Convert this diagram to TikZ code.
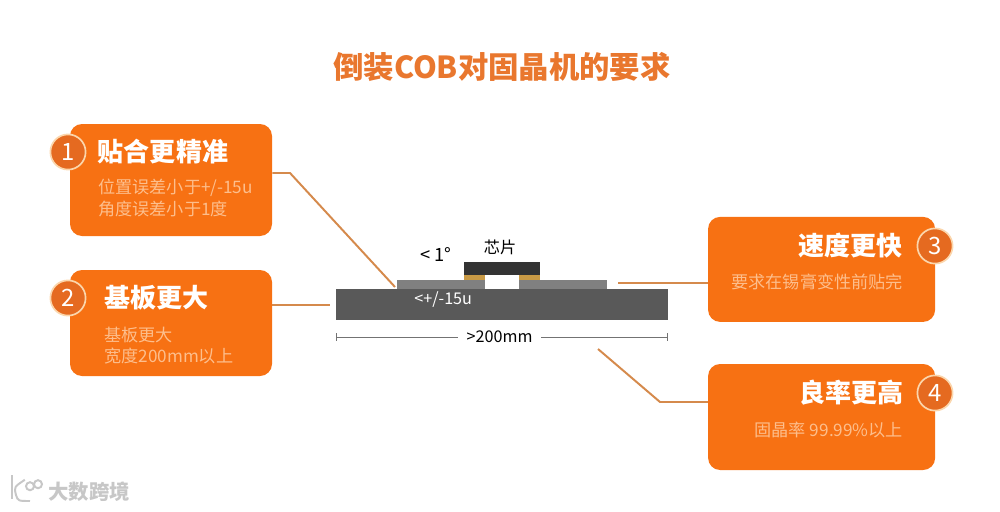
\documentclass[tikz,border=0pt]{standalone}
\usepackage{fontspec}
\setmainfont{Noto Sans CJK SC}
\usepackage{tikz}

\definecolor{boxorange}{HTML}{F77113}
\definecolor{badgeorange}{HTML}{E56A20}
\definecolor{ringcream}{HTML}{FBD6AC}
\definecolor{titleorange}{HTML}{E9772E}
\definecolor{linetan}{HTML}{D58A4C}
\definecolor{detailpeach}{HTML}{FDBE8C}
\definecolor{soldertan}{HTML}{C99A45}

\begin{document}
\begin{tikzpicture}
	\tikzstyle{box}=[fill=boxorange,rounded corners=0.3cm,inner sep=0pt,minimum width=5.05cm]
	\tikzstyle{rbox}=[box,minimum width=5.675cm]
	\tikzstyle{badge}=[draw=ringcream,fill=badgeorange,line width=1.2pt,shape=circle,minimum size=0.88cm,inner sep=0pt,text=white,font=\fontsize{17}{17}\selectfont]
	\tikzstyle{heading}=[text=white,font=\fontsize{18.5}{20}\selectfont\bfseries,inner sep=0pt]
	\tikzstyle{detail}=[text=detailpeach,font=\fontsize{12.2}{15}\selectfont,inner sep=0pt]
	\tikzstyle{part}=[inner sep=0pt,minimum size=0pt]
	\tikzstyle{leader}=[draw=linetan,line width=1.4pt]
	\tikzstyle{logo}=[draw=black!22,line width=1.4pt]

	\useasboundingbox (0,0) rectangle (25,12.775);

	\node[text=titleorange,font=\fontsize{21.6}{24}\selectfont\bfseries](title) at (12.55,11.1){倒装COB对固晶机的要求};

	\node[box,minimum height=2.8cm](box1) at (4.275,8.275){};
	\node[box,minimum height=2.65cm](box2) at (4.275,4.7){};
	\node[rbox,minimum height=2.625cm](box3) at (20.54,6.04){};
	\node[rbox,minimum height=2.65cm](box4) at (20.54,2.35){};

	\node[badge](n1) at (1.7,8.975){1};
	\node[badge](n2) at (1.7,5.325){2};
	\node[badge](n3) at (23.375,6.625){3};
	\node[badge](n4) at (23.375,2.95){4};

	\node[heading](h1) at (4.075,8.975){贴合更精准};
	\node[heading,anchor=west](h2) at (2.6,5.325){基板更大};
	\node[heading](h3) at (21.27,6.625){速度更快};
	\node[heading](h4) at (21.28,2.95){良率更高};

	\node[detail,anchor=west,align=left](d1) at (2.45,7.825){位置误差小于+/-15u\\角度误差小于1度};
	\node[detail,anchor=west,align=left](d2) at (2.6,4.125){基板更大\\宽度200mm以上};
	\node[detail,anchor=east](d3) at (22.58,5.725){要求在锡膏变性前贴完};
	\node[detail,anchor=east](d4) at (22.58,2.025){固晶率 99.99\%以上};

	% cross section
	\node[part,fill=black!65,minimum width=8.3cm,minimum height=0.775cm](base) at (12.55,5.1625){};
	\node[part,fill=black!50,minimum width=2.2cm,minimum height=0.225cm](padl) at (11.025,5.6625){};
	\node[part,fill=black!50,minimum width=2.2cm,minimum height=0.225cm](padr) at (14.075,5.6625){};
	\node[part,fill=black!80,minimum width=1.9cm,minimum height=0.325cm](chip) at (12.55,6.0625){};
	\node[part,fill=soldertan,minimum width=0.525cm,minimum height=0.125cm](soll) at (11.8625,5.8375){};
	\node[part,fill=soldertan,minimum width=0.525cm,minimum height=0.125cm](solr) at (13.2375,5.8375){};

	\node[font=\fontsize{11.5}{12}\selectfont](chiplabel) at (12.5,6.6){芯片};
	\node[font=\fontsize{13}{13}\selectfont](angle) at (10.9,6.4){< 1°};
	\node[text=white,font=\fontsize{11.5}{12}\selectfont,inner sep=0pt](offset) at (11.08,5.275){<+/-15u};

	\coordinate (dl) at (8.4,4.35);
	\coordinate (dr) at (16.7,4.35);
	\node[font=\fontsize{11.5}{12}\selectfont,inner xsep=0.2cm,inner ysep=0pt](width) at (12.49,4.35){>200mm};
	\draw[|-,black!55] (dl) -- (width);
	\draw[|-,black!55] (dr) -- (width);

	% leaders
	\coordinate (b1) at (7.25,8.45);
	\coordinate (e1) at (9.875,5.6);
	\coordinate (e2) at (8.25,5.15);
	\coordinate (e3) at (15.45,5.7);
	\coordinate (b4) at (16.5,2.725);
	\coordinate (e4) at (14.95,4.05);

	\draw[leader] ([yshift=0.175cm]box1.east) -- (b1) -- (e1);
	\draw[leader] ([yshift=0.45cm]box2.east) -- (e2);
	\draw[leader] ([yshift=-0.34cm]box3.west) -- (e3);
	\draw[leader] ([yshift=0.375cm]box4.west) -- (b4) -- (e4);

	% mark in the corner
	\node[text=black!22,font=\fontsize{14.5}{15}\selectfont\bfseries,inner sep=0pt](mark) at (2.23,0.475){大数跨境};
	\coordinate (ka) at (0.3,0.9);
	\coordinate (kb) at (0.3,0.3);
	\node[logo,shape=circle,minimum size=0.2cm,inner sep=0pt](eyea) at (0.75,0.62){};
	\node[logo,shape=circle,minimum size=0.2cm,inner sep=0pt](eyeb) at (0.95,0.67){};
	\draw[logo] (ka) -- (kb);
	\draw[logo] (0.62,0.78) .. controls (0.35,0.6) .. (0.4,0.4) .. controls (0.45,0.25) .. (0.75,0.25);
\end{tikzpicture}
\end{document}
